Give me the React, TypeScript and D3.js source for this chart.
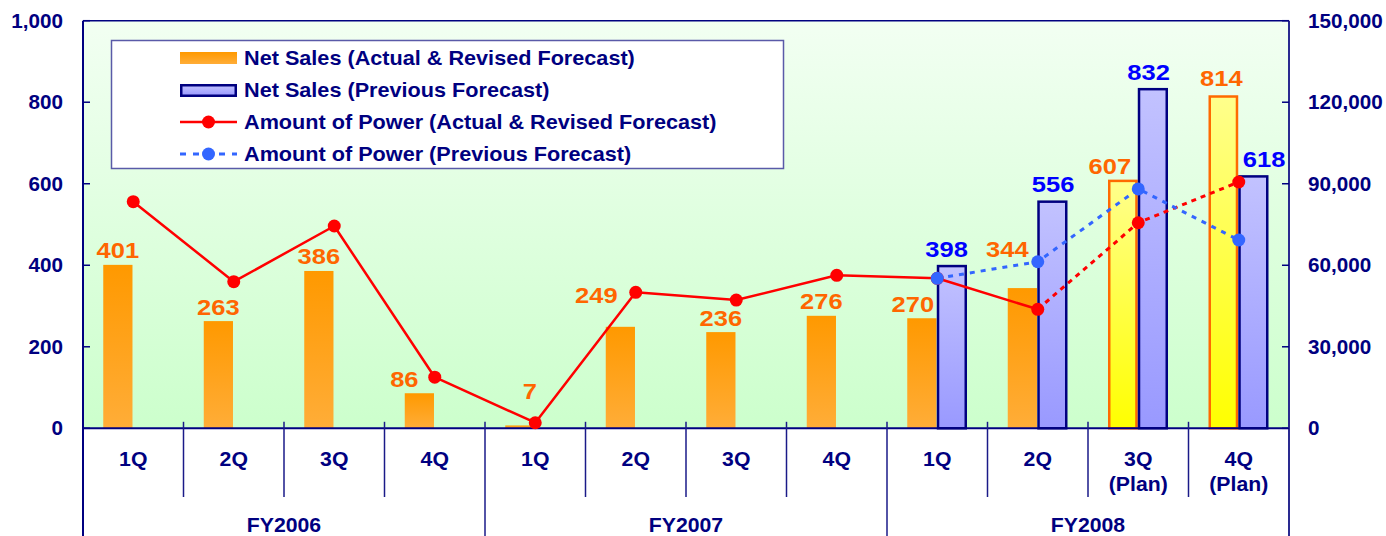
import React from 'react';
import * as d3 from 'd3';

// ---------- data ----------
const quarterLabels = ['1Q', '2Q', '3Q', '4Q', '1Q', '2Q', '3Q', '4Q', '1Q', '2Q', '3Q', '4Q'];
const subLabels = ['', '', '', '', '', '', '', '', '', '', '(Plan)', '(Plan)'];
const fiscalYears = ['FY2006', 'FY2007', 'FY2008'];
const netSalesActual = [401, 263, 386, 86, 7, 249, 236, 276, 270, 344, 607, 814];
const netSalesPrevious: (number | null)[] = [null, null, null, null, null, null, null, null, 398, 556, 832, 618];
const powerActual = [83400, 53950, 74450, 18800, 2050, 50050, 47200, 56300, 55200, 43800, 75650, 90650];
const powerPrevious: (number | null)[] = [null, null, null, null, null, null, null, null, 55200, 61300, 88100, 69300];
const leftTicks = [0, 200, 400, 600, 800, 1000];
const rightTicks = [0, 30000, 60000, 90000, 120000, 150000];
const legendLabels = [
  'Net Sales (Actual & Revised Forecast)',
  'Net Sales (Previous Forecast)',
  'Amount of Power (Actual & Revised Forecast)',
  'Amount of Power (Previous Forecast)',
];

// ---------- layout ----------
const W = 1386;
const H = 536;
const L = 83;
const R = 1289;
const T = 20.7;
const B = 428.3;
const NAVY = '#000080';
const ORANGE_TXT = '#FF6600';
const BLUE_TXT = '#0000FF';
const RED = '#FF0000';
const BLUE = '#3366FF';
const FONT = '"Liberation Sans", Arial, Helvetica, sans-serif';

// label nudges (layout only) keyed by series+index
const nudges: Record<string, [number, number]> = {
  a3: [-15, 0],
  a4: [10, -20],
  a5: [-24, -17],
  a8: [-9, 0],
  a9: [-15, -25],
  a10: [-13, 0],
  a11: [-2, -4],
  p8: [-6, 0],
  p10: [-5, 0],
  p11: [10, 0],
};

type STextProps = {
  x: number;
  y: number;
  sx: number;
  size: number;
  anchor?: 'start' | 'middle' | 'end';
  fill: string;
  children: React.ReactNode;
};

function SText({ x, y, sx, size, anchor = 'start', fill, children }: STextProps) {
  return (
    <text
      transform={`translate(${x},${y}) scale(${sx},1)`}
      x={0}
      y={0}
      textAnchor={anchor}
      fontSize={size}
      fontWeight="bold"
      fontFamily={FONT}
      fill={fill}
    >
      {children}
    </text>
  );
}

export default function App() {
  const idx = quarterLabels.map((_, i) => i);
  const x = d3.scaleBand<number>().domain(idx).range([L, R]).padding(0);
  const inner = d3.scaleBand<string>().domain(['act', 'prev']).range([-30, 30]).paddingInner(0.05);
  const yL = d3.scaleLinear().domain([0, 1000]).range([B, T]);
  const yR = d3.scaleLinear().domain([0, 150000]).range([B, T]);
  const cx = (i: number) => (x(i) as number) + x.bandwidth() / 2;
  const fmt = d3.format(',');

  const firstPlan = subLabels.findIndex((s) => s !== '');
  const lineGen = d3
    .line<[number, number]>()
    .x((d) => d[0])
    .y((d) => d[1]);

  const redPts: [number, number][] = powerActual.map((v, i) => [cx(i), yR(v)]);
  const redSolid = lineGen(redPts.slice(0, firstPlan)) || '';
  const redDash = lineGen(redPts.slice(firstPlan - 1)) || '';
  const bluePts: [number, number][] = powerPrevious
    .map((v, i) => (v == null ? null : ([cx(i), yR(v)] as [number, number])))
    .filter((d): d is [number, number] => d != null);
  const blueDash = lineGen(bluePts) || '';

  const yearSize = quarterLabels.length / fiscalYears.length;

  const valueLabel = (key: string, xx: number, yy: number, txt: string, color: string) => {
    const n = nudges[key] || [0, 0];
    return (
      <SText key={key} x={xx + n[0]} y={yy + n[1]} sx={1.16} size={22} anchor="middle" fill={color}>
        {txt}
      </SText>
    );
  };

  return (
    <svg
      width={W}
      height={H}
      viewBox={`0 0 ${W} ${H}`}
      style={{ position: 'absolute', left: 0, top: 0, display: 'block', background: '#ffffff' }}
    >
      <defs>
        <linearGradient id="bgGrad" x1="0" y1="0" x2="0" y2="1">
          <stop offset="0" stopColor="#F2FFF2" />
          <stop offset="1" stopColor="#CCFFCC" />
        </linearGradient>
        <linearGradient id="orangeGrad" x1="0" y1="0" x2="0" y2="1">
          <stop offset="0" stopColor="#FF9900" />
          <stop offset="1" stopColor="#FFAD38" />
        </linearGradient>
        <linearGradient id="yellowGrad" x1="0" y1="0" x2="0" y2="1">
          <stop offset="0" stopColor="#FFFF8C" />
          <stop offset="1" stopColor="#FFFF00" />
        </linearGradient>
        <linearGradient id="blueGrad" x1="0" y1="0" x2="0" y2="1">
          <stop offset="0" stopColor="#C2C2FF" />
          <stop offset="1" stopColor="#9999FF" />
        </linearGradient>
      </defs>

      {/* plot background */}
      <rect x={L} y={T} width={R - L} height={B - T} fill="url(#bgGrad)" />

      {/* legend */}
      <g>
        <rect x={111.5} y={40.5} width={672} height={128} fill="#FFFFFF" stroke="#5A5AA8" strokeWidth={1.5} />
        <rect x={180} y={52} width={57} height={12} fill="url(#orangeGrad)" />
        <rect x={181.25} y={85.25} width={54.5} height={10.5} fill="url(#blueGrad)" stroke={NAVY} strokeWidth={2.5} />
        <line x1={180} x2={237} y1={122} y2={122} stroke={RED} strokeWidth={2.5} />
        <circle cx={208.5} cy={122} r={6.5} fill={RED} />
        <line x1={180} x2={237} y1={154} y2={154} stroke={BLUE} strokeWidth={3} strokeDasharray="6 7" />
        <circle cx={208.5} cy={154} r={6.5} fill={BLUE} />
        {legendLabels.map((t, i) => (
          <SText key={t} x={244} y={65 + i * 32} sx={1.11} size={19.5} fill={NAVY}>
            {t}
          </SText>
        ))}
      </g>

      {/* bars: actual / revised */}
      {netSalesActual.map((v, i) => {
        const isPlan = subLabels[i] !== '';
        const x0 = cx(i) + (inner('act') as number);
        const w = inner.bandwidth();
        const y0 = yL(v);
        return isPlan ? (
          <rect
            key={'a' + i}
            x={x0 + 1}
            y={y0}
            width={w - 2}
            height={B - y0}
            fill="url(#yellowGrad)"
            stroke="#FF6A00"
            strokeWidth={2.5}
          />
        ) : (
          <rect key={'a' + i} x={x0} y={y0} width={w} height={B - y0} fill="url(#orangeGrad)" />
        );
      })}
      {/* bars: previous forecast */}
      {netSalesPrevious.map((v, i) => {
        if (v == null) return null;
        const x0 = cx(i) + (inner('prev') as number);
        const w = inner.bandwidth();
        const y0 = yL(v);
        return (
          <rect
            key={'p' + i}
            x={x0}
            y={y0}
            width={w - 1.5}
            height={B - y0}
            fill="url(#blueGrad)"
            stroke={NAVY}
            strokeWidth={2.5}
          />
        );
      })}

      {/* plot frame and axes */}
      <line x1={L} x2={R} y1={T} y2={T} stroke={NAVY} strokeWidth={1.5} />
      <line x1={L} x2={R} y1={B} y2={B} stroke={NAVY} strokeWidth={2} />
      <line x1={L} x2={L} y1={T} y2={H} stroke={NAVY} strokeWidth={2} />
      <line x1={R} x2={R} y1={T} y2={H} stroke="#2A2A90" strokeWidth={2} />

      {/* axes */}
      {leftTicks.map((t) => (
        <g key={'l' + t}>
          <line x1={L} x2={L + 7} y1={yL(t)} y2={yL(t)} stroke={NAVY} strokeWidth={1.5} />
          <SText x={63} y={yL(t) + 7} sx={1.06} size={19.5} anchor="end" fill={NAVY}>
            {fmt(t)}
          </SText>
        </g>
      ))}
      {rightTicks.map((t) => (
        <g key={'r' + t}>
          <line x1={R - 7} x2={R} y1={yR(t)} y2={yR(t)} stroke={NAVY} strokeWidth={1.5} />
          <SText x={1308} y={yR(t) + 7} sx={1.06} size={19.5} anchor="start" fill={NAVY}>
            {fmt(t)}
          </SText>
        </g>
      ))}

      {/* category separators */}
      {idx.slice(1).map((i) => {
        const xx = x(i) as number;
        const isYear = i % yearSize === 0;
        return (
          <line
            key={'s' + i}
            x1={xx}
            x2={xx}
            y1={B - 6.5}
            y2={isYear ? H : 497}
            stroke="#1A1A88"
            strokeWidth={1.5}
          />
        );
      })}

      {/* category labels */}
      {quarterLabels.map((q, i) => (
        <g key={'c' + i}>
          <SText x={cx(i)} y={466} sx={1.09} size={19.5} anchor="middle" fill={NAVY}>
            {q}
          </SText>
          {subLabels[i] && (
            <SText x={cx(i)} y={491} sx={1.09} size={19.5} anchor="middle" fill={NAVY}>
              {subLabels[i]}
            </SText>
          )}
        </g>
      ))}
      {fiscalYears.map((fy, k) => {
        const a = x(k * yearSize) as number;
        const b = (x((k + 1) * yearSize - 1) as number) + x.bandwidth();
        return (
          <SText key={fy} x={(a + b) / 2} y={532} sx={1.09} size={19.5} anchor="middle" fill={NAVY}>
            {fy}
          </SText>
        );
      })}

      {/* power lines */}
      <path d={redSolid} fill="none" stroke={RED} strokeWidth={2.5} strokeLinejoin="round" />
      <path d={redDash} fill="none" stroke={RED} strokeWidth={3} strokeDasharray="5 5" />
      {redPts.map((p, i) => (
        <circle key={'rc' + i} cx={p[0]} cy={p[1]} r={6.5} fill={RED} />
      ))}
      <path d={blueDash} fill="none" stroke={BLUE} strokeWidth={3} strokeDasharray="5 6" />
      {bluePts.map((p, i) => (
        <circle key={'bc' + i} cx={p[0]} cy={p[1]} r={6.5} fill={BLUE} />
      ))}

      {/* value labels */}
      {netSalesActual.map((v, i) => {
        const xx = cx(i) + (inner('act') as number) + inner.bandwidth() / 2;
        return valueLabel('a' + i, xx, yL(v) - 6.5, String(v), ORANGE_TXT);
      })}
      {netSalesPrevious.map((v, i) => {
        if (v == null) return null;
        const xx = cx(i) + (inner('prev') as number) + inner.bandwidth() / 2;
        return valueLabel('p' + i, xx, yL(v) - 9.5, String(v), BLUE_TXT);
      })}
    </svg>
  );
}
